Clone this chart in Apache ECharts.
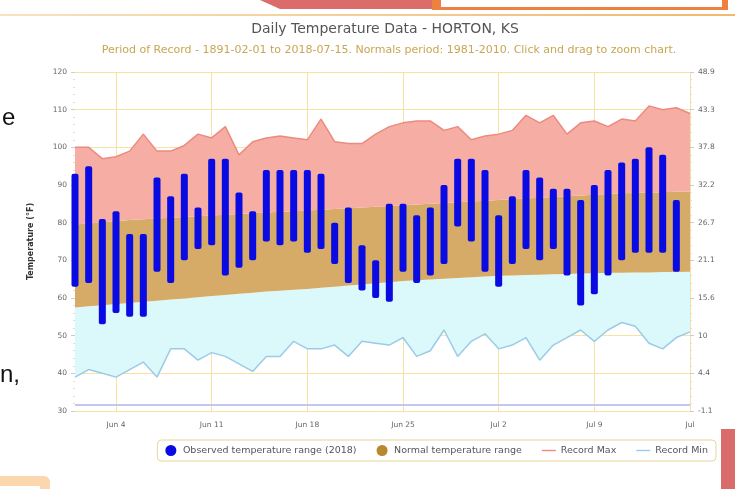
<!DOCTYPE html>
<html>
<head>
<meta charset="utf-8">
<script src="https://cdn.jsdelivr.net/npm/echarts@6/dist/echarts.min.js"></script>
<style>
	html,body{margin:0;padding:0;background:#ffffff;}
	#chart{width:735px;height:489px;}
</style>
</head>
<body>
<div id="chart"></div>
<script>
// days on the x axis, Jun 1 .. Jul 16
const days = ['Jun 1','Jun 2','Jun 3','Jun 4','Jun 5','Jun 6','Jun 7','Jun 8','Jun 9','Jun 10',
	'Jun 11','Jun 12','Jun 13','Jun 14','Jun 15','Jun 16','Jun 17','Jun 18','Jun 19','Jun 20',
	'Jun 21','Jun 22','Jun 23','Jun 24','Jun 25','Jun 26','Jun 27','Jun 28','Jun 29','Jun 30',
	'Jul 1','Jul 2','Jul 3','Jul 4','Jul 5','Jul 6','Jul 7','Jul 8','Jul 9','Jul 10',
	'Jul 11','Jul 12','Jul 13','Jul 14','Jul 15','Jul 16']
const xTickLabels = ['Jun 4','Jun 11','Jun 18','Jun 25','Jul 2','Jul 9','Jul']
const celsiusLabels = ['-1.1','4.4','10','15.6','21.1','26.7','32.2','37.8','43.3','48.9']

// observed 2018 (Jun 1 .. Jul 15)
const obsHigh = [93,95,81,83,77,77,92,87,93,84, 97,97,88,83,94,94,94,94,93,80, 84,74,70,85,85,82,84,90,97,97, 94,82,87,94,92,89,89,86,90,94, 96,97,100,98,86]
const obsLow = [63,64,53,56,55,55,67,64,70,73, 74,66,68,70,75,74,75,72,73,69, 64,62,60,59,67,64,66,69,79,75, 67,63,69,73,70,73,66,58,61,66, 70,72,72,72,67]

// normals 1981-2010
const normHigh = [79.5,79.8,80.1,80.4,80.7,80.9,81.1,81.3,81.5,81.7, 81.9,82.1,82.3,82.5,82.7,82.9,83.0,83.2,83.4,83.6,
	83.8,84.0,84.2,84.4,84.6,84.8,85.0,85.2,85.4,85.6, 85.8,86.0,86.2,86.4,86.6,86.8,87.0,87.2,87.4,87.6, 87.8,87.9,88.0,88.1,88.2,88.3]
const normLow = [57.5,57.8,58.1,58.4,58.7,59.0,59.3,59.6,59.9,60.2, 60.5,60.8,61.1,61.4,61.7,61.9,62.2,62.4,62.7,63.0,
	63.3,63.6,63.9,64.2,64.5,64.7,64.9,65.1,65.3,65.5, 65.7,65.9,66.0,66.1,66.2,66.3,66.4,66.5,66.6,66.7, 66.7,66.8,66.8,66.9,66.9,67.0]

// records
const recMax = [100,100,97,97.5,99,103.5,99,99,100.5,103.5, 102.5,105.5,98,101.5,102.5,103,102.5,102,107.5,101.5,
	101,101,103.5,105.5,106.5,107,107,104.5,105.5,102, 103,103.5,104.5,108.5,106.5,108.5,103.5,106.5,107,105.5, 107.5,107,111,110,110.5,109]
const recMin = [39,41,40,39,41,43,39,46.5,46.5,43.5, 45.5,44.5,42.5,40.5,44.5,44.5,48.5,46.5,46.5,47.5,
	44.5,48.5,48,47.5,49.5,44.5,46,51.5,44.5,48.5, 50.5,46.5,47.5,49.5,43.5,47.5,49.5,51.5,48.5,51.5, 53.5,52.5,48,46.5,49.5,51]

const baseLine = 31.6

const font = 'DejaVu Sans'
const gridColor = '#f7e2a4'
const lineIcon = 'path://M0,0 L20,0 L20,2 L0,2 Z'

function diff(a,b){
	const out = []
	for(let i = 0 ; i < a.length ; i ++){
		out.push(+(a[i] - b[i]).toFixed(2))
	}
	return out
}

const chart = echarts.init(document.getElementById('chart'))
chart.setOption({
	animation:false,
	textStyle:{fontFamily:font},
	title:[{
		text:'Daily Temperature Data - HORTON, KS',
		left:380,
		top:17,
		textAlign:'center',
		textStyle:{fontSize:14,fontWeight:'normal',color:'#555555',fontFamily:font}
	},{
		text:'Period of Record - 1891-02-01 to 2018-07-15. Normals period: 1981-2010. Click and drag to zoom chart.',
		left:384,
		top:40,
		textAlign:'center',
		textStyle:{fontSize:11,fontWeight:'normal',color:'#c9a652',fontFamily:font}
	}],
	legend:{
		right:19,
		top:440,
		padding:[5,8,5,8],
		borderColor:'#e9d698',
		borderWidth:1,
		borderRadius:4,
		itemGap:20,
		itemWidth:14,
		itemHeight:11,
		textStyle:{fontSize:9.5,color:'#555555',fontFamily:font},
		data:[
			{name:'Observed temperature range (2018)',icon:'circle'},
			{name:'Normal temperature range',icon:'circle'},
			{name:'Record Max',icon:lineIcon},
			{name:'Record Min',icon:lineIcon}
		]
	},
	grid:{left:75,right:45,top:72,bottom:78},
	xAxis:{
		type:'category',
		data:days,
		boundaryGap:false,
		axisLine:{lineStyle:{color:gridColor}},
		axisTick:{show:false},
		axisLabel:{
			fontSize:7.5,
			color:'#666666',
			margin:10,
			interval:function(i){ return (i - 3) % 7 === 0 },
			formatter:function(v,i){ return xTickLabels[(i - 3) / 7] }
		},
		splitLine:{
			show:true,
			interval:function(i){ return (i - 3) % 7 === 0 },
			lineStyle:{color:gridColor}
		}
	},
	yAxis:[{
		type:'value',
		min:30,
		max:120,
		interval:10,
		name:'Temperature (\u00b0F)',
		nameLocation:'middle',
		nameRotate:90,
		nameGap:40,
		nameTextStyle:{fontSize:8,fontWeight:'bold',color:'#333333',fontFamily:font},
		axisLine:{show:false},
		axisTick:{show:true,length:4,lineStyle:{color:'#cccccc'}},
		minorTick:{show:true,splitNumber:5,length:2,lineStyle:{color:'#dddddd'}},
		axisLabel:{fontSize:7.5,color:'#666666',margin:8},
		splitLine:{lineStyle:{color:gridColor}}
	},{
		type:'value',
		min:30,
		max:120,
		interval:10,
		position:'right',
		axisLine:{show:false},
		axisTick:{show:true,length:4,lineStyle:{color:'#cccccc'}},
		minorTick:{show:true,splitNumber:5,length:2,lineStyle:{color:'#dddddd'}},
		axisLabel:{
			fontSize:7.5,
			color:'#666666',
			margin:8,
			formatter:function(v){ return celsiusLabels[Math.round((v - 30) / 10)] }
		},
		splitLine:{show:false}
	}],
	series:[{
		name:'Record Min',
		type:'line',
		stack:'env',
		data:recMin,
		symbol:'none',
		z:2,
		lineStyle:{color:'#9ccbe7',width:1.5},
		itemStyle:{color:'#9ccbe7'},
		markLine:{
			silent:true,
			symbol:'none',
			label:{show:false},
			lineStyle:{color:'#c3c6ef',width:2,type:'solid'},
			data:[{yAxis:baseLine}]
		}
	},{
		name:'lowfill',
		type:'line',
		stack:'env',
		data:diff(normLow,recMin),
		symbol:'none',
		z:1,
		lineStyle:{width:0},
		areaStyle:{color:'#dbf8fa',opacity:1}
	},{
		name:'Normal temperature range',
		type:'line',
		stack:'env',
		data:diff(normHigh,normLow),
		symbol:'none',
		z:1,
		lineStyle:{width:0},
		itemStyle:{color:'#b8892c'},
		areaStyle:{color:'#d6ab67',opacity:1}
	},{
		name:'Record Max',
		type:'line',
		stack:'env',
		data:diff(recMax,normHigh),
		symbol:'none',
		z:1,
		lineStyle:{color:'#ec8a80',width:1.5},
		itemStyle:{color:'#ec8a80'},
		areaStyle:{color:'#f6aea4',opacity:1}
	},{
		name:'obsBase',
		type:'bar',
		stack:'obs',
		data:obsLow,
		barWidth:7,
		z:3,
		clip:false,
		itemStyle:{color:'transparent'}
	},{
		name:'Observed temperature range (2018)',
		type:'bar',
		stack:'obs',
		data:diff(obsHigh,obsLow),
		barWidth:7,
		z:3,
		clip:false,
		itemStyle:{color:'#0a0ae2',borderRadius:2}
	}],
	graphic:[
		{type:'polygon',shape:{points:[[260,0],[432,0],[432,9],[280,9]]},style:{fill:'#dc6c6a'},z:10},
		{type:'rect',shape:{x:432,y:0,width:296,height:10},style:{fill:'#ee8040'},z:10},
		{type:'rect',shape:{x:441,y:0,width:281,height:7},style:{fill:'#ffffff'},z:11},
		{type:'rect',shape:{x:0,y:14,width:735,height:2},style:{fill:new echarts.graphic.LinearGradient(0,0,1,0,[{offset:0,color:'#f8e2bf'},{offset:1,color:'#f0b870'}])},z:10},
		{type:'text',left:2,top:106,style:{text:'e',fontSize:24,fill:'#111111',fontFamily:'Liberation Sans'},z:10},
		{type:'text',left:0,top:363,style:{text:'n,',fontSize:24,fill:'#111111',fontFamily:'Liberation Sans'},z:10},
		{type:'rect',shape:{x:0,y:476,width:50,height:13,r:[0,6,0,0]},style:{fill:'#fcd6ad'},z:10},
		{type:'rect',shape:{x:0,y:486,width:40,height:3},style:{fill:'#ffffff'},z:11},
		{type:'rect',shape:{x:721,y:429,width:14,height:60},style:{fill:'#d96b6b'},z:10}
	]
})
</script>
</body>
</html>
